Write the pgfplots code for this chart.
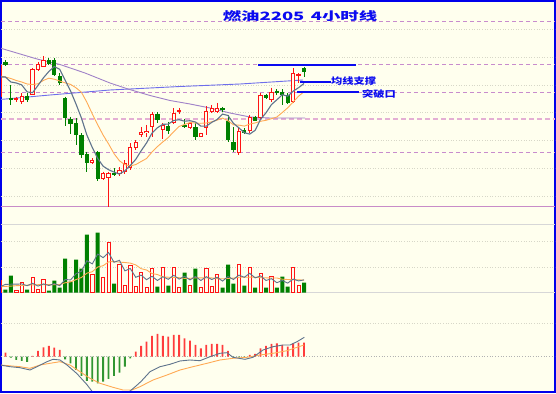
\documentclass[border=0pt]{standalone}
\usepackage{fontspec}
\usepackage{graphicx}
\usepackage{pgfplots}
\usepackage{pgfplotstable}
\pgfplotsset{compat=1.18}
\newfontfamily\cjk{Noto Sans CJK SC}
\definecolor{bgc}{RGB}{255,255,238}
\definecolor{framec}{RGB}{0,0,235}
\definecolor{upred}{RGB}{255,20,20}
\definecolor{dngreen}{RGB}{0,128,0}
\definecolor{ma5}{RGB}{95,115,140}
\definecolor{ma10}{RGB}{255,170,85}
\definecolor{malong}{RGB}{160,130,200}
\definecolor{mablue}{RGB}{110,110,235}
\definecolor{dashc}{RGB}{200,140,205}
\definecolor{dashp}{RGB}{228,175,212}
\definecolor{gridc}{RGB}{215,215,200}
\definecolor{sepc}{RGB}{200,140,200}
\definecolor{annot}{RGB}{10,10,240}
\definecolor{histred}{RGB}{255,60,60}
\definecolor{histgreen}{RGB}{50,150,50}
\definecolor{panelc}{RGB}{215,215,215}

% candles, y in pixel rows (smaller = higher price)
\pgfplotstableread{
i o h l c
0 97 63 99 65
3 100 97 102 98.5
4 101.7 93.3 104 95.7
6 95 68 95.5 69.3
7 70 62 71 64
8 66.7 56 67.3 60
17 163.3 158 164 160
19 179.3 171.7 180 173.3
20 178.3 171.7 206.7 172.7
22 174 167 176 170
23 172 160 174 163
24 168 143 170 147
25 148 140 150 142
26 135 127 137 132
27 133 125 137 130.5
28 127 112 137 114
30 130 123 139 125
32 122.7 108 124 112.7
33 112 108 114 110
35 128.3 121.7 129.3 122.7
37 136.7 132.5 137 133
38 128.3 106 135 110.7
39 111.7 105 112.7 108.3
40 111.7 103 112.7 108.3
44 153.3 128.3 155 130.7
46 131 115 133 117.3
48 118.3 92.7 119.3 95
50 100 87.7 101.7 91.7
54 101.7 68.3 102.7 73.3
55 76 73.5 83.3 74
}\redc
\pgfplotstableread{
i o h l c
1 62.5 60.5 66.5 65.5
2 97.7 85 105 100
5 95.7 93 102 100
9 60 58 65 64.3
10 60 58 76 75
11 76 73.3 85 83.3
12 98.3 96.7 126 118.3
13 119 116.7 134 124
14 123.3 118.3 145 135
15 135 133.3 158.3 155
16 154 151.7 171.7 163.3
18 151.7 151 180.7 179.3
21 172.7 168.3 176 175
29 114 112 123 120
31 126 122 134 131
34 125 119 128.3 127.3
36 127.3 123 140 137.3
41 108.3 106.7 111.7 110
42 120.7 115 141.7 140
43 142 127 152 150
45 130 128 133.5 132.7
47 117.3 116 121 120.7
49 95 94 99 98.3
51 90.7 89.5 95 93.3
52 91.7 89.3 105 95
53 95 93.3 104 102.7
56 68.3 66.7 76.7 72.3
}\greenc
\pgfplotstableread{
i v
0 77
1 77
2 82
3 83
4 84.9
5 91.9
6 92.7
7 85.5
8 77.8
9 71.5
10 66.5
11 69.3
12 80.2
13 91
14 104
15 118
16 135
17 147.5
18 158.5
19 166.2
20 169.7
21 172.1
22 174.1
23 170.8
24 165.5
25 159.4
26 150.8
27 142.9
28 133.1
29 127.7
30 124.3
31 124.1
32 120.5
33 119.7
34 121.2
35 120.7
36 122
37 126.1
38 126.2
39 122.4
40 119.5
41 114.1
42 115.5
43 123.3
44 127.8
45 132.7
46 134.1
47 130.3
48 119.3
49 112.8
50 104.6
51 99.8
52 94.7
53 96.2
54 91.2
55 87.7
56 83.5
}\mafive
\pgfplotstableread{
i v
0 76
1 77
2 78.5
3 80.5
4 82
5 84
6 84.5
7 83.8
8 80.4
9 78.2
10 79.2
11 81
12 82.9
13 84.4
14 87.8
15 92.3
16 102.2
17 113.9
18 124.8
19 135.1
20 143.9
21 153.6
22 160.8
23 164.7
24 165.9
25 164.6
26 161.5
27 158.5
28 152
29 146.6
30 141.9
31 137.5
32 131.7
33 126.4
34 124.5
35 122.5
36 123.1
37 123.3
38 123
39 121.8
40 120.1
41 118.1
42 120.8
43 124.8
44 125.1
45 126.1
46 124.1
47 122.9
48 121.3
49 120.3
50 118.7
51 117
52 112.5
53 107.8
54 102
55 96.2
56 91.7
}\maten
% volume (bar height in px)
\pgfplotstableread{
i v
0 12
3 2
4 10
6 15
7 3
8 13
17 18
19 15
20 50
22 28
23 7
24 27
25 6
26 20
27 5
28 24
30 25
32 25
33 5
35 7
37 5
38 24
39 6
40 18
44 28
46 25
48 19
50 16
54 25
55 7
}\volred
\pgfplotstableread{
i v
1 3
2 17
5 3
9 2
10 12
11 5
12 34
13 11
14 33
15 24
16 58
18 60
21 9
29 6
31 7
34 20
36 24
41 5
42 28
43 9
45 7
47 5
49 5
51 5
52 16
53 6
56 10
}\volgreen
\pgfplotstableread{
i a b
0 6 6
1 8.3 6.3
2 8.5 6.6
3 8.5 7
4 8.8 7.3
5 7 7.5
6 9.4 7.8
7 6.6 8
8 8.8 8
9 7.2 8
10 9 8
11 7 8.2
12 13.2 9.9
13 12.8 10.8
14 19 13.1
15 21.4 15.2
16 32 19.5
17 28.8 21
18 38.6 25.7
19 35 27
20 40.2 30.8
21 30.4 31.2
22 32.4 30.6
23 21.8 30.2
24 24.2 29.6
25 15.4 27.8
26 17.6 24
27 13 22.7
28 16.4 19.1
29 12.2 18.2
30 16 15.7
31 13.4 15.5
32 17.4 15.2
33 13.6 15
34 16.4 14.3
35 12.8 14.4
36 16.2 14.8
37 12.2 14.8
38 16 14.8
39 13.2 14.8
40 15.4 14.1
41 11.6 13.9
42 16.2 14.2
43 13.2 14.6
44 17.6 15.4
45 15.4 15.4
46 19.4 15.5
47 14.8 15.5
48 16.8 15
49 12.2 14.9
50 14 14.7
51 10 14.7
52 12.2 13.5
53 9.6 13.2
54 13.6 12.9
55 11.8 12.9
56 12.8 12.5
}\volma
% MACD histogram
\pgfplotstableread{
i v
1 4
6 0.7
7 5.7
8 9.4
9 10.7
10 9
11 6.7
25 5
26 10.7
27 15
28 20.7
29 22.7
30 20.7
31 20
32 21.7
33 21.7
34 18.4
35 16
36 11.7
37 8.4
38 11.7
39 12.7
40 12.7
41 11.7
42 5.7
46 1.7
47 2.7
48 8.4
49 10.7
50 12.7
51 13.4
52 11.7
53 10
54 13.4
55 14
56 14
}\histpos
\pgfplotstableread{
i v
2 -1
3 -3.3
4 -4.3
5 -5.3
12 -2.6
13 -6.6
14 -13.3
15 -19.3
16 -24.3
17 -25
18 -26.6
19 -25
20 -22.3
21 -19.3
22 -16
23 -10
24 -1.6
43 -0.8
44 -0.8
45 -0.8
}\histneg

\pgfplotsset{
  candle/.style 2 args={draw=none, no markers, forget plot,
    error bars/.cd, y dir=plus, y explicit, error mark=none,
    error bar style={line width=#2, draw=#1, solid}},
  hline/.style={forget plot},
}

\begin{document}
\begin{tikzpicture}
% ===== main panel (pixel coordinates) =====
\begin{axis}[
  at={(1pt,1pt)}, anchor=south west,
  width=554pt, height=391pt, scale only axis,
  xmin=1, xmax=555, ymin=1, ymax=392, y dir=reverse,
  axis line style={draw=framec, line width=2pt},
  ticks=none,
  axis background/.style={fill=bgc},
  clip=true,
]
% grid lines
\addplot[hline, gridc, dotted, line width=0.6pt] coordinates {(1,29)(555,29)};
\addplot[hline, gridc, dotted, line width=0.6pt] coordinates {(1,57)(555,57)};
\addplot[hline, gridc, dotted, line width=0.6pt] coordinates {(1,85)(555,85)};
\addplot[hline, gridc, dotted, line width=0.6pt] coordinates {(1,112)(555,112)};
\addplot[hline, gridc, dotted, line width=0.6pt] coordinates {(1,140)(555,140)};
\addplot[hline, gridc, dotted, line width=0.6pt] coordinates {(1,168)(555,168)};
\addplot[hline, gridc, dotted, line width=0.6pt] coordinates {(1,196)(555,196)};
\addplot[hline, dashc, dash pattern=on 4pt off 3pt, line width=0.9pt] coordinates {(1,21)(555,21)};
\addplot[hline, dashc, dash pattern=on 4pt off 3pt, line width=0.9pt] coordinates {(1,64)(555,64)};
\addplot[hline, dashc, dash pattern=on 4pt off 3pt, line width=0.9pt] coordinates {(1,92)(555,92)};
\addplot[hline, dashp, dash pattern=on 5pt off 3pt, line width=1.6pt] coordinates {(1,119)(555,119)};
\addplot[hline, dashc, dash pattern=on 4pt off 3pt, line width=0.9pt] coordinates {(1,152)(555,152)};
\addplot[hline, sepc, line width=0.9pt] coordinates {(1,206)(555,206)};
% long moving averages
\addplot[hline, mablue, line width=0.9pt] coordinates {(0,99.5)(50,95)(110,90)(180,86.5)(240,84)(303,80)};
\addplot[hline, malong, line width=0.9pt] coordinates {(0,48)(37,59)(60,64.5)(85,73)(110,83)(128,89)(150,95.5)(170,100.5)(190,104)(210,108)(230,113)(250,117)(270,118)(305,118)};
% wicks
\addplot[candle={upred}{1pt}] table[x expr=\thisrow{i}*5.4286, y=h, y error plus expr=\thisrow{l}-\thisrow{h}] {\redc};
\addplot[candle={dngreen}{1pt}] table[x expr=\thisrow{i}*5.4286, y=h, y error plus expr=\thisrow{l}-\thisrow{h}] {\greenc};
% bodies
\addplot[candle={upred}{4.4pt}] table[x expr=\thisrow{i}*5.4286, y=c, y error plus expr={max(\thisrow{o}-\thisrow{c},1)}] {\redc};
\addplot[candle={bgc}{2.4pt}] table[x expr=\thisrow{i}*5.4286, y expr=\thisrow{c}+1, y error plus expr={max(\thisrow{o}-\thisrow{c}-2,0)}] {\redc};
\addplot[candle={dngreen}{4.4pt}] table[x expr=\thisrow{i}*5.4286, y=o, y error plus expr={max(\thisrow{c}-\thisrow{o},1.2)}] {\greenc};
% short moving averages
\addplot[hline, ma10, line width=0.9pt] table[x expr=\thisrow{i}*5.4286, y=v] {\maten};
\addplot[hline, ma5, line width=1.1pt] table[x expr=\thisrow{i}*5.4286, y=v] {\mafive};
% annotation lines
\addplot[hline, annot, line width=2pt] coordinates {(258,65)(356,65)};
\addplot[hline, annot, line width=2pt] coordinates {(300,82)(331,82)};
\addplot[hline, annot, line width=2pt] coordinates {(297,92)(359,92)};
\node[text=annot, inner sep=0pt] at (axis cs:300,16.2)
  {\cjk\bfseries\fontsize{11.5}{12}\selectfont\scalebox{1.6}[1]{燃油2205\hspace{4pt}4小时线}};
\node[text=annot, anchor=west, inner sep=0pt] at (axis cs:331,81.5)
  {\cjk\bfseries\fontsize{9}{10}\selectfont\scalebox{1.25}[1]{均线支撑}};
\node[text=annot, anchor=west, inner sep=0pt] at (axis cs:362,94.5)
  {\cjk\bfseries\fontsize{9}{10}\selectfont\scalebox{1.25}[1]{突破口}};
\end{axis}

% ===== volume panel =====
\begin{axis}[
  at={(1pt,100.3pt)}, anchor=south west,
  width=554pt, height=68.4pt, scale only axis,
  xmin=1, xmax=555, ymin=0, ymax=68.4,
  hide axis, clip=true,
]
\addplot[hline, panelc, line width=0.8pt] coordinates {(1,0.2)(555,0.2)};
\addplot[hline, panelc, line width=0.8pt] coordinates {(1,68.2)(555,68.2)};
\addplot[hline, gridc, dotted, line width=0.6pt] coordinates {(1,51)(555,51)};
\addplot[hline, gridc, dotted, line width=0.6pt] coordinates {(1,25.4)(555,25.4)};
\addplot[ybar, bar width=3.3pt, bar shift=0pt, draw=upred, fill=bgc, line width=0.8pt, forget plot]
  table[x expr=\thisrow{i}*5.4286, y=v] {\volred};
\addplot[ybar, bar width=4pt, bar shift=0pt, draw=none, fill=dngreen, forget plot]
  table[x expr=\thisrow{i}*5.4286, y=v] {\volgreen};
\addplot[hline, ma10, line width=0.9pt] table[x expr=\thisrow{i}*5.4286, y=b] {\volma};
\addplot[hline, ma5, line width=0.9pt] table[x expr=\thisrow{i}*5.4286, y=a] {\volma};
\end{axis}

% ===== MACD panel =====
\begin{axis}[
  at={(1pt,2pt)}, anchor=south west,
  width=554pt, height=91pt, scale only axis,
  xmin=1, xmax=555, ymin=-34.3, ymax=56.7,
  hide axis, clip=true,
]
\addplot[hline, gridc, dotted, line width=0.6pt] coordinates {(1,33.4)(555,33.4)};
\addplot[hline, gray!60, dotted, line width=0.7pt] coordinates {(1,0)(555,0)};
\addplot[ybar, bar width=1.8pt, bar shift=0pt, draw=none, fill=histred, forget plot]
  table[x expr=\thisrow{i}*5.4286, y=v] {\histpos};
\addplot[ybar, bar width=1.8pt, bar shift=0pt, draw=none, fill=histgreen, forget plot]
  table[x expr=\thisrow{i}*5.4286, y=v] {\histneg};
\addplot[hline, ma10, line width=0.9pt] coordinates {(0,-8.3)(20,-10)(30,-11.6)(40,-8.3)(50,-6.6)(60,-5)(70,-8.3)(80,-15)(90,-21.6)(100,-26.6)(113,-30.6)(123,-33.3)(132,-33.3)(140,-30)(153,-23.3)(167,-18.3)(180,-13.3)(193,-10)(207,-6.6)(220,-3.3)(233,-1.6)(247,-0.6)(260,1.7)(273,3.4)(287,6)(304,11.7)};
\addplot[hline, ma5, line width=0.9pt] coordinates {(0,-8.3)(10,-10)(20,-11)(30,-13.3)(37,-10)(47,-5)(53,-2.6)(60,-3.3)(67,-8.3)(77,-17)(87,-28)(92.3,-35)(97.7,-39.3)(103.2,-40.3)(108.6,-40.5)(114,-40.3)(119.5,-40.3)(124.9,-38.3)(130.3,-34.1)(135.8,-29.5)(141.2,-24.6)(150,-15)(160,-10)(170,-7.6)(180,-4.3)(190,-3.3)(200,-4)(210,0)(220,3.4)(227,4)(233,-0.6)(245,-2.6)(253,-0.6)(263,6.7)(273,10)(283,11.7)(290,11.7)(297,15)(304.3,19.4)};
\end{axis}
\end{tikzpicture}
\end{document}
